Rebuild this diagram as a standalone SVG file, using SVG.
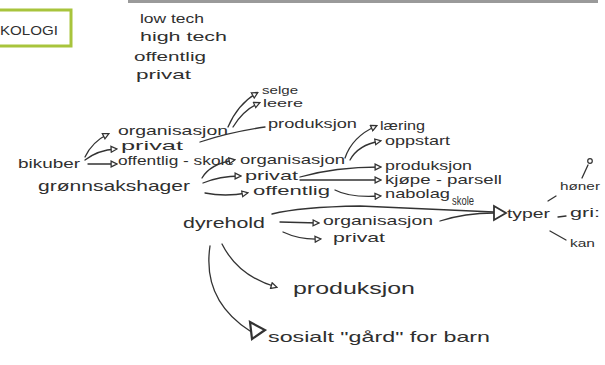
<svg xmlns="http://www.w3.org/2000/svg" width="605" height="365" viewBox="0 0 605 365">
<style>
.t{font-family:"Liberation Sans","DejaVu Sans",sans-serif;fill:#2f2f2f;font-size:13px}
.s{font-size:11px}
.b{font-size:17px}
.m{font-size:15px}
.c path{fill:none;stroke:#333;stroke-width:1.3;stroke-linecap:round}
</style>
<defs>
<marker id="a" viewBox="0 0 8 8" refX="6" refY="4" markerWidth="6" markerHeight="6" orient="auto">
<path d="M1,1 L7,4 L1,7 Z" fill="#fff" stroke="#333" stroke-width="1.3"/>
</marker>
</defs>
<rect width="605" height="365" fill="#fff"/>
<rect x="128" y="0" width="470" height="3" fill="#9a9a9a"/>
<g id="kologi">
<rect x="-6" y="10" width="77" height="36" fill="none" stroke="#a8c43c" stroke-width="3"/>
<text class="t" x="0" y="35" textLength="58" lengthAdjust="spacingAndGlyphs">KOLOGI</text>
</g>
<g id="notes">
<text class="t" x="140" y="23" textLength="64" lengthAdjust="spacingAndGlyphs">low tech</text>
<text class="t" x="140" y="41" textLength="87" lengthAdjust="spacingAndGlyphs">high tech</text>
<text class="t" x="134" y="61" textLength="72" lengthAdjust="spacingAndGlyphs">offentlig</text>
<text class="t" x="136" y="79" textLength="55" lengthAdjust="spacingAndGlyphs">privat</text>
</g>
<g id="bikuber"><text class="t" x="18" y="168" textLength="62" lengthAdjust="spacingAndGlyphs">bikuber</text></g>
<g id="b-org"><text class="t" x="118" y="135" textLength="110" lengthAdjust="spacingAndGlyphs">organisasjon</text></g>
<g id="b-priv"><text class="t" x="121" y="150" textLength="62" lengthAdjust="spacingAndGlyphs">privat</text></g>
<g id="b-off"><text class="t" x="118" y="165" textLength="116" lengthAdjust="spacingAndGlyphs">offentlig - skole</text></g>
<g id="selge"><text class="t s" x="262" y="94" textLength="36" lengthAdjust="spacingAndGlyphs">selge</text></g>
<g id="leere"><text class="t s" x="263" y="107" textLength="40" lengthAdjust="spacingAndGlyphs">leere</text></g>
<g id="b-prod"><text class="t" x="268" y="128" textLength="89" lengthAdjust="spacingAndGlyphs">produksjon</text></g>
<g id="gronn"><text class="t m" x="38" y="191" textLength="152" lengthAdjust="spacingAndGlyphs">grønnsakshager</text></g>
<g id="g-org"><text class="t" x="240" y="164" textLength="105" lengthAdjust="spacingAndGlyphs">organisasjon</text></g>
<g id="g-priv"><text class="t" x="245" y="180" textLength="53" lengthAdjust="spacingAndGlyphs">privat</text></g>
<g id="g-off"><text class="t" x="253" y="195" textLength="77" lengthAdjust="spacingAndGlyphs">offentlig</text></g>
<g id="laering"><text class="t" x="380" y="130" textLength="45" lengthAdjust="spacingAndGlyphs">læring</text></g>
<g id="oppstart"><text class="t" x="385" y="145" textLength="65" lengthAdjust="spacingAndGlyphs">oppstart</text></g>
<g id="g-prod"><text class="t" x="385" y="170" textLength="87" lengthAdjust="spacingAndGlyphs">produksjon</text></g>
<g id="kjope"><text class="t" x="385" y="184" textLength="117" lengthAdjust="spacingAndGlyphs">kjøpe - parsell</text></g>
<g id="nabolag"><text class="t" x="385" y="198" textLength="65" lengthAdjust="spacingAndGlyphs">nabolag</text>
<text class="t" x="452" y="205" font-size="7" textLength="22" lengthAdjust="spacingAndGlyphs">skole</text></g>
<g id="dyrehold"><text class="t m" x="183" y="228" textLength="82" lengthAdjust="spacingAndGlyphs">dyrehold</text></g>
<g id="d-org"><text class="t" x="323" y="225" textLength="110" lengthAdjust="spacingAndGlyphs">organisasjon</text></g>
<g id="d-priv"><text class="t" x="333" y="242" textLength="52" lengthAdjust="spacingAndGlyphs">privat</text></g>
<g id="d-prod"><text class="t b" x="293" y="294" textLength="122" lengthAdjust="spacingAndGlyphs">produksjon</text></g>
<g id="sosialt"><text class="t m" x="268" y="342" textLength="222" lengthAdjust="spacingAndGlyphs">sosialt "gård" for barn</text></g>
<g id="typer"><text class="t" x="507" y="218" textLength="43" lengthAdjust="spacingAndGlyphs">typer</text>
<text class="t" x="570" y="217" textLength="30" lengthAdjust="spacingAndGlyphs">gri:</text></g>
<g id="honer"><text class="t s" x="560" y="190" textLength="40" lengthAdjust="spacingAndGlyphs">høner</text></g>
<g id="kan"><text class="t s" x="570" y="247" textLength="25" lengthAdjust="spacingAndGlyphs">kan</text></g>
<g class="c" id="connectors">
<path marker-end="url(#a)" d="M85,157 Q92,142 108,134"/>
<path marker-end="url(#a)" d="M85,160 Q98,150 116,149"/>
<path marker-end="url(#a)" d="M88,164 L116,164"/>
<path marker-end="url(#a)" d="M228,127 Q238,104 257,93"/>
<path marker-end="url(#a)" d="M233,127 Q243,110 259,103"/>
<path d="M200,142 Q230,132 265,127"/>
<path marker-end="url(#a)" d="M202,178 Q210,164 234,160"/>
<path marker-end="url(#a)" d="M203,183 Q220,176 240,176"/>
<path marker-end="url(#a)" d="M205,193 Q225,197 247,193"/>
<path marker-end="url(#a)" d="M345,158 Q352,137 376,126"/>
<path marker-end="url(#a)" d="M350,160 Q358,145 380,141"/>
<path marker-end="url(#a)" d="M300,177 Q335,167 380,167"/>
<path marker-end="url(#a)" d="M300,180 Q340,180 380,180"/>
<path marker-end="url(#a)" d="M335,190 Q350,198 380,196"/>
<path d="M272,214 Q300,207 360,206 L494,212"/>
<path d="M440,221 Q465,213 494,213"/>
<path marker-end="url(#a)" d="M280,222 L318,223"/>
<path marker-end="url(#a)" d="M283,232 Q300,240 320,239"/>
<path marker-end="url(#a)" d="M222,244 Q238,276 276,287"/>
<path d="M210,246 Q202,300 250,331"/>
<path d="M548,201 L556,196"/>
<path d="M558,217 L566,216"/>
<path d="M550,231 L566,240"/>
<path d="M582,178 L588,165"/>
<circle cx="590" cy="161" r="2.3" fill="none" stroke="#333" stroke-width="1.2"/>
<polygon points="494,206 506,213 494,220" fill="#fff" stroke="#333" stroke-width="1.8"/>
<polygon points="250,322 265,330 252,339" fill="#fff" stroke="#333" stroke-width="2.2"/>
</g>
</svg>
